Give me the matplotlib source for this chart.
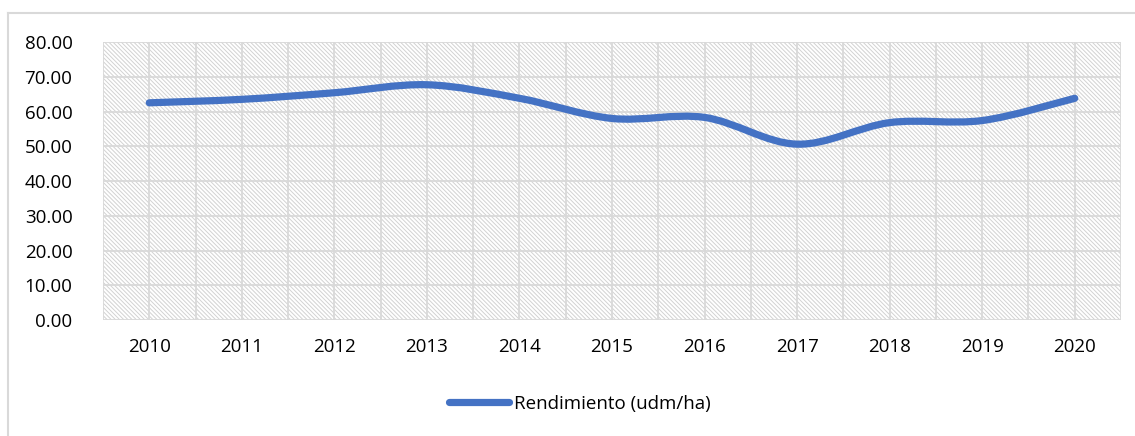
import matplotlib
matplotlib.use('Agg')
import matplotlib.pyplot as plt
from matplotlib.path import Path
from matplotlib.patches import PathPatch, Rectangle
from matplotlib.lines import Line2D

plt.rcParams['font.family'] = ['Open Sans', 'DejaVu Sans']
plt.rcParams['hatch.linewidth'] = 0.7

# data
years = ['2010', '2011', '2012', '2013', '2014', '2015', '2016', '2017', '2018', '2019', '2020']
rendimiento = [62.5, 63.5, 65.4, 67.7, 63.8, 58.0, 58.3, 50.6, 56.8, 57.4, 63.8]
series_name = 'Rendimiento (udm/ha)'
yticks = [0, 10, 20, 30, 40, 50, 60, 70, 80]

blue = '#4472C4'
grid = '#d9d9d9'

fig = plt.figure(figsize=(11.35, 4.36), dpi=100)
W, H = 1135, 436
ax = fig.add_axes([103 / W, 1 - 320 / H, (1121 - 103) / W, (320 - 42) / H])

n = len(years)
ax.set_xlim(-0.5, n - 0.5)
ax.set_ylim(0, 80)

# hatched plot area
ax.add_patch(Rectangle((0, 0), 1, 1, transform=ax.transAxes, facecolor='white',
                       edgecolor='#d2d2d2', hatch='\\' * 8, lw=0, zorder=0))

# gridlines (category centers and boundaries)
for k in range(2 * n + 1):
    ax.axvline(-0.5 + k * 0.5, color=grid, lw=1.3, zorder=1)
for t in yticks:
    ax.axhline(t, color=grid, lw=1.3, zorder=1)

# smoothed line (bezier through points, like Excel)
xs = list(range(n))
pts = list(zip(xs, rendimiento))
verts = [pts[0]]
codes = [Path.MOVETO]
for i in range(n - 1):
    p0 = pts[max(i - 1, 0)]
    p1 = pts[i]
    p2 = pts[i + 1]
    p3 = pts[min(i + 2, n - 1)]
    c1 = (p1[0] + (p2[0] - p0[0]) / 6, p1[1] + (p2[1] - p0[1]) / 6)
    c2 = (p2[0] - (p3[0] - p1[0]) / 6, p2[1] - (p3[1] - p1[1]) / 6)
    verts += [c1, c2, p2]
    codes += [Path.CURVE4] * 3
ax.add_patch(PathPatch(Path(verts, codes), facecolor='none', edgecolor=blue,
                       lw=5.2, capstyle='round', joinstyle='round', zorder=3))

ax.set_xticks(xs)
ax.set_xticklabels(years)
ax.set_yticks(yticks)
ax.set_yticklabels(['%.2f' % t for t in yticks])
ax.tick_params(length=0, labelsize=13.5, colors='#000000')
ax.tick_params(axis='x', pad=13)
ax.tick_params(axis='y', pad=22)
for s in ax.spines.values():
    s.set_visible(False)

handle = Line2D([], [], color=blue, lw=5.2, solid_capstyle='round')
fig.legend([handle], [series_name], loc='center', bbox_to_anchor=(580 / W, 1 - 404 / H),
           frameon=False, fontsize=13.5, handlelength=3.2, handletextpad=0.3)

# chart area border
fig.add_artist(Line2D([8 / W, 8 / W], [0, 1 - 13 / H], color='#d9d9d9', lw=1.5))
fig.add_artist(Line2D([8 / W, 1], [1 - 13 / H, 1 - 13 / H], color='#d9d9d9', lw=1.5))

fig.savefig('out.png', dpi=100)
